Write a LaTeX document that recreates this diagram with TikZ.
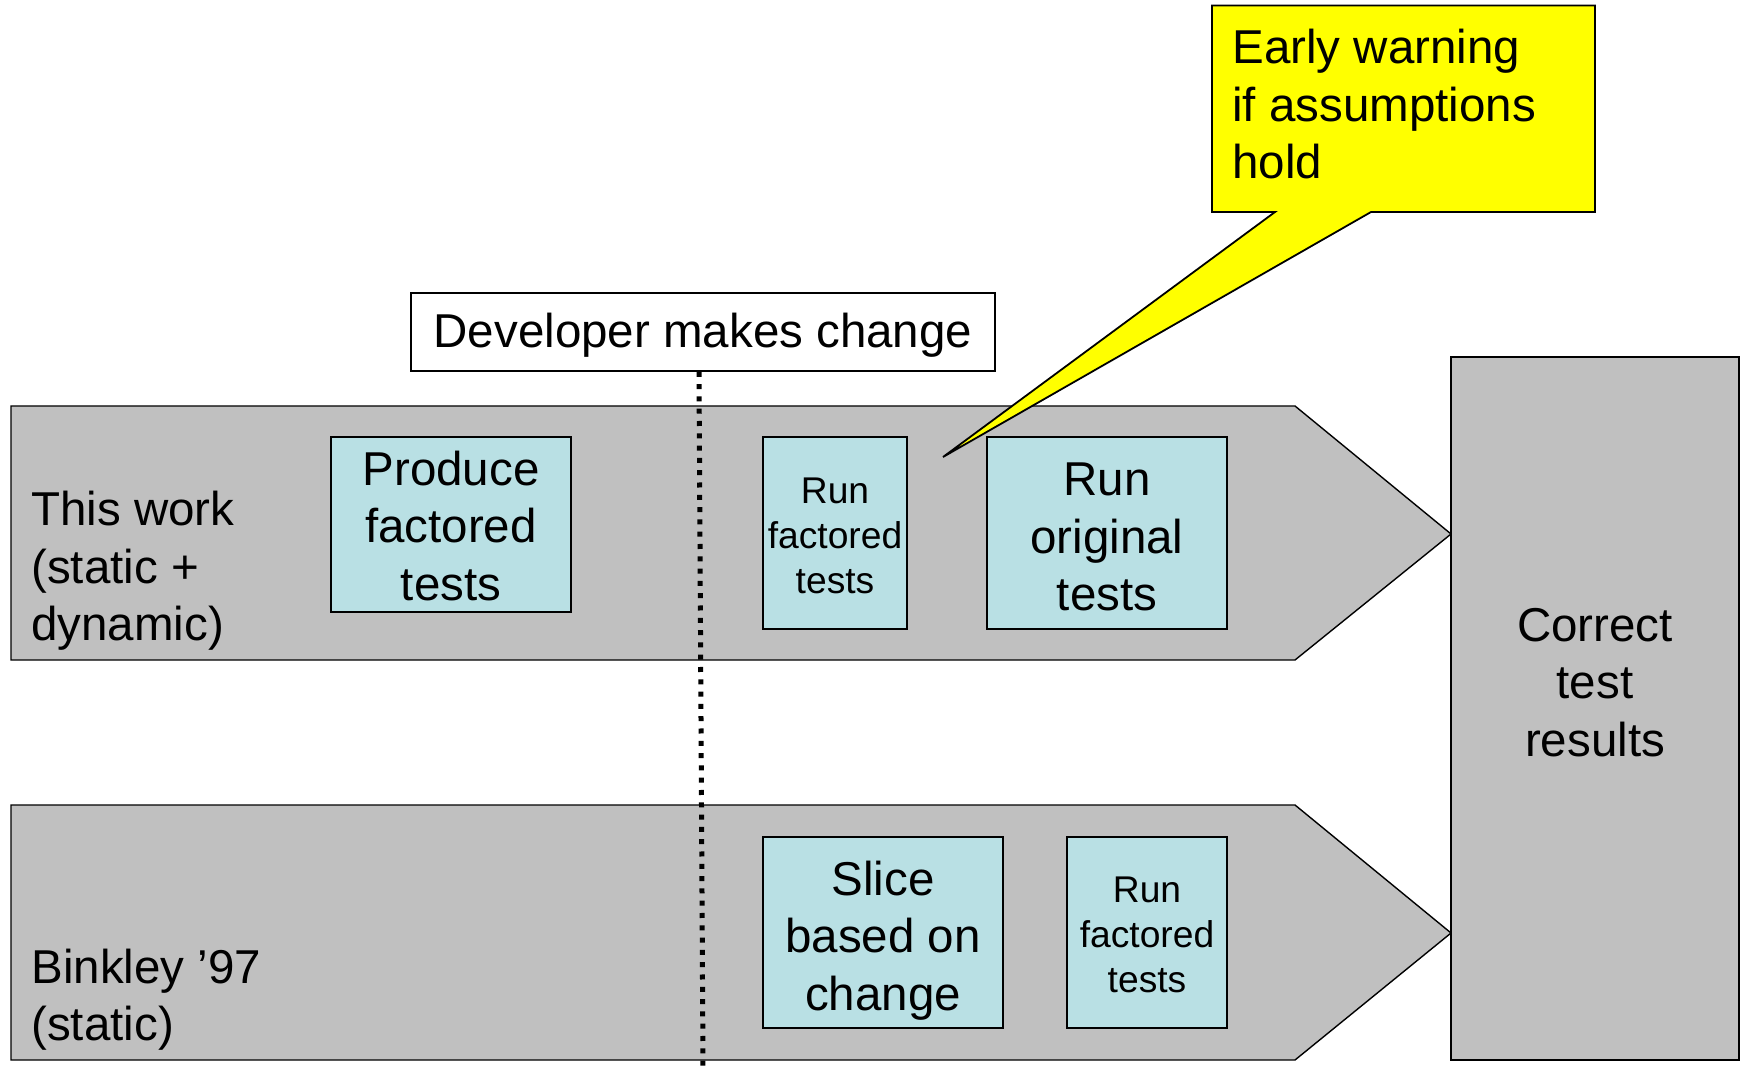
\documentclass[tikz,border=0pt]{standalone}
\usepackage{fontspec}
\setmainfont{Liberation Sans}
\definecolor{lanegray}{RGB}{192,192,192}
\definecolor{stepblue}{RGB}{185,224,228}
\definecolor{noteyellow}{RGB}{255,255,0}
\newcommand\bigtext{\fontsize{23.75pt}{28.7pt}\selectfont}
\newcommand\smalltext{\fontsize{18.6pt}{22.5pt}\selectfont}
% invisible strut that sets the height of a first line
\newcommand\topline[1]{\rule{0pt}{#1}}
\begin{document}
\begin{tikzpicture}[x=0.5pt,y=-0.5pt,
  lane/.style={draw=black,fill=lanegray,line width=0.7pt,line join=miter},
  stepbox/.style={draw=black,fill=stepblue,line width=0.8pt,inner sep=0pt,
    align=center,font=\bigtext},
  smallstep/.style={stepbox,font=\smalltext},
  label/.style={inner sep=0pt,align=left,font=\bigtext,anchor=north west},
  devline/.style={line width=2.5pt,dash pattern=on 2.5pt off 3.65pt},
]
\useasboundingbox (0,0) rectangle (1743,1068);

% swim lanes drawn as chevrons
\draw[lane] (11,406) -- (1295,406) -- (1451,534) -- (1295,660) -- (11,660) -- cycle;
\draw[lane] (11,805) -- (1295,805) -- (1451,933) -- (1295,1060) -- (11,1060) -- cycle;

% outcome box on the right
\node[draw=black,fill=lanegray,line width=0.8pt,minimum width=144pt,
  minimum height=351.5pt,inner sep=0pt] (result) at (1595,708.5) {};
\node[inner sep=0pt,align=center,font=\bigtext,anchor=north] (resulttext)
  at (1595,608) {Correct\\test\\results};

% lane titles
\node[label] (thiswork) at (31,491) {This work\\(static +\\dynamic)};
\node[label] (binkley) at (31,948.5) {Binkley ’97\\(static)};

% steps in the upper lane
\node[stepbox,minimum width=120pt,minimum height=87.5pt] (produce)
  at (451,524.5) {\topline{18.4pt}Produce\\factored\\tests};
\node[smallstep,minimum width=72pt,minimum height=96pt] (runfact)
  at (835,533) {\topline{15.5pt}Run\\factored\\tests};
\node[stepbox,minimum width=120pt,minimum height=96pt] (runorig)
  at (1107,533) {\topline{20.3pt}Run\\original\\tests};

% steps in the lower lane
\node[stepbox,minimum width=120pt,minimum height=95.5pt] (slice)
  at (883,932.5) {\topline{25.3pt}Slice\\based on\\change};
\node[smallstep,minimum width=80pt,minimum height=95.5pt] (runfactb)
  at (1147,932.5) {\topline{15.5pt}Run\\factored\\tests};

% moment of the change
\node[draw=black,fill=white,line width=0.8pt,minimum width=292pt,
  minimum height=39pt,inner sep=0pt,font=\bigtext] (dev) at (703,332)
  {\topline{20.8pt}Developer makes change};
\coordinate (timeend) at (703,1068);
\draw[devline] ([xshift=-2pt]dev.south) -- (timeend);

% callout
\coordinate (tip) at (943,457);
\draw[fill=noteyellow,line width=0.9pt,line join=miter]
  (1212,5.5) -- (1595,5.5) -- (1595,212) -- (1371,212) -- (tip)
  -- (1275,212) -- (1212,212) -- cycle;
\node[label] (warn) at (1232,29) {Early warning\\if assumptions\\hold};
\end{tikzpicture}
\end{document}
